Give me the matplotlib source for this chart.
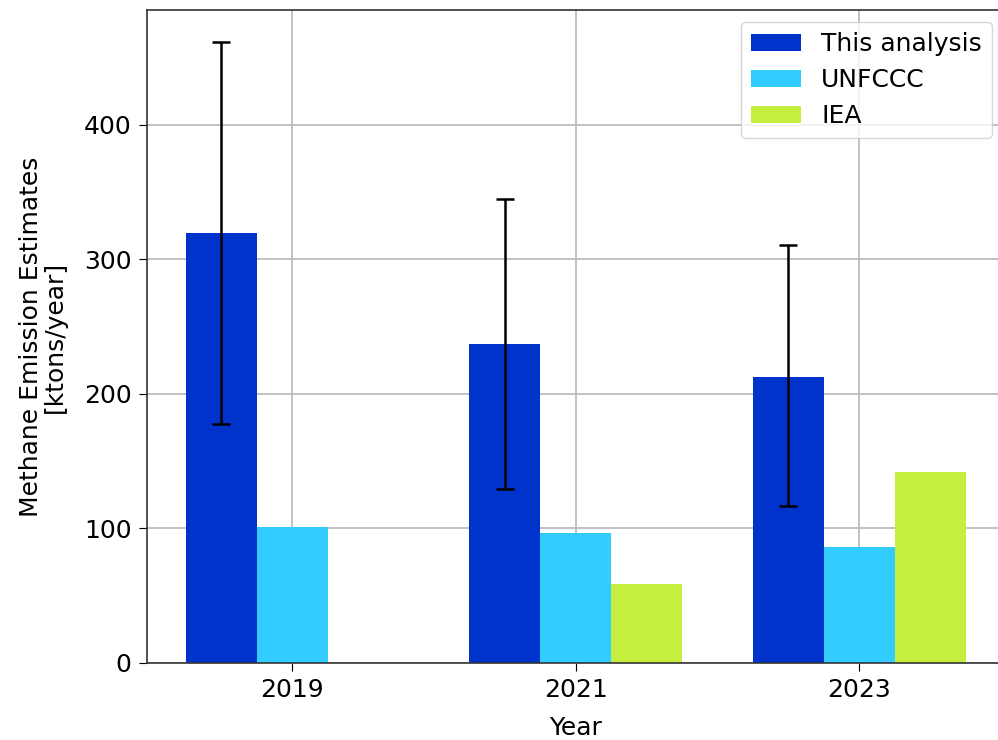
import matplotlib
matplotlib.use("Agg")
import matplotlib.pyplot as plt
import numpy as np

years = ["2019", "2021", "2023"]
this_analysis = [320, 237, 213]
this_err_low = [142, 108, 96]
this_err_high = [142, 108, 98]
unfccc = [101, 97, 86]
iea = [0, 59, 142]

colors = {"This analysis": "#0033cc", "UNFCCC": "#33ccff", "IEA": "#c4ef3f"}

fig = plt.figure(figsize=(9.98, 7.4), dpi=100)
ax = fig.add_axes([147 / 998, 77 / 740, (1004.5 - 147) / 998, 653 / 740])

x = np.arange(len(years))
w = 0.25
ax.bar(x - w, this_analysis, w, color=colors["This analysis"], label="This analysis",
       yerr=[this_err_low, this_err_high], capsize=6.5,
       error_kw=dict(ecolor="black", elinewidth=1.8, capthick=1.8))
ax.bar(x, unfccc, w, color=colors["UNFCCC"], label="UNFCCC")
iea_x = [xi + w for xi, v in zip(x, iea) if v > 0]
iea_v = [v for v in iea if v > 0]
ax.bar(iea_x, iea_v, w, color=colors["IEA"], label="IEA")

ax.set_xticks(x)
ax.set_xticklabels(years)
ax.set_xlim(-0.5125, 2.5125)
ax.set_ylim(0, 485.5)
ax.set_yticks([0, 100, 200, 300, 400])
ax.tick_params(labelsize=18, length=6, pad=5)
ax.set_xlabel("Year", fontsize=18, labelpad=10)
ax.set_ylabel("Methane Emission Estimates\n[ktons/year]", fontsize=18, labelpad=12,
              linespacing=1.0)
ax.grid(True, color="#b8b8b8", linewidth=1.2)
ax.set_axisbelow(True)
for s in ax.spines.values():
    s.set_color("#333333")
    s.set_linewidth(1.2)

ax.legend(loc="upper right", bbox_to_anchor=(992 / 998, 718 / 740),
          bbox_transform=fig.transFigure, fontsize=18, borderaxespad=0,
          labelspacing=0.48, handlelength=2.0, handletextpad=0.8)

fig.savefig("out.png", dpi=100)
